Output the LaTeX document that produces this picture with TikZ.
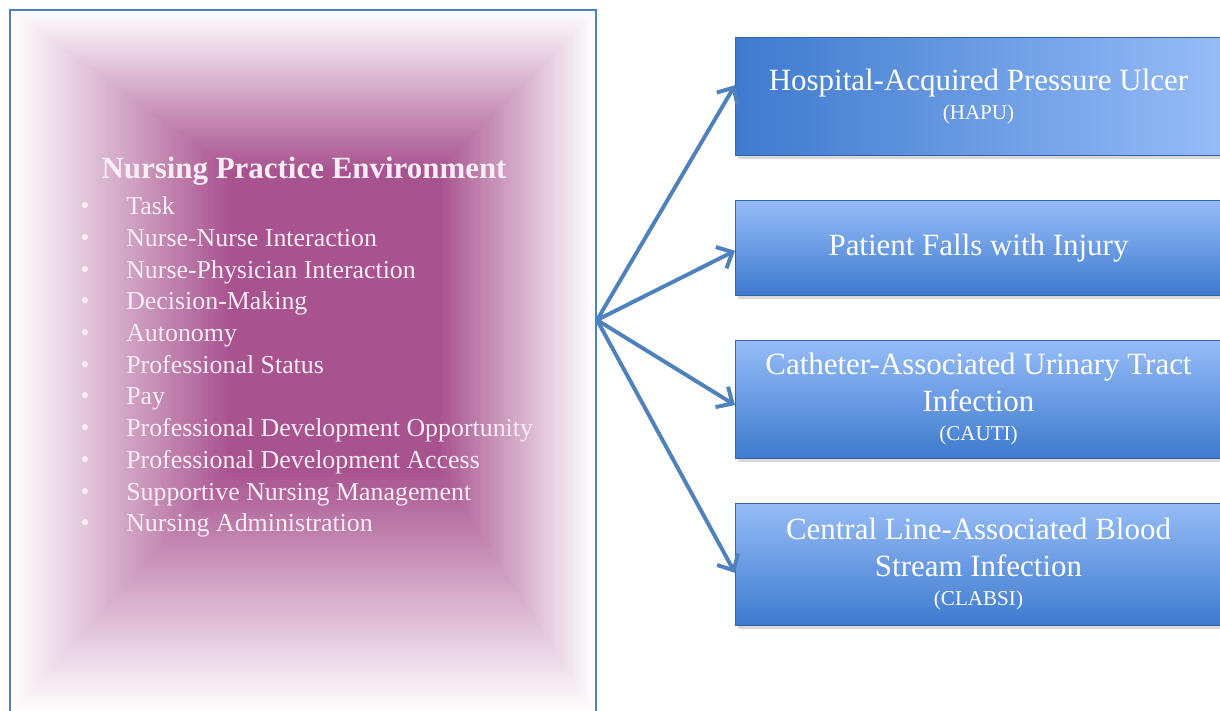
\documentclass[tikz,border=0pt]{standalone}
\usepackage{fontspec}
\setmainfont{Liberation Serif}
\usetikzlibrary{arrows.meta,shadows}
\definecolor{envpurple}{RGB}{168,82,143}
\definecolor{edgeblue}{RGB}{79,129,189}
\definecolor{boxdark}{RGB}{62,122,206}
\definecolor{boxlight}{RGB}{150,188,247}
\definecolor{itemwhite}{RGB}{248,236,245}

\begin{document}
\begin{tikzpicture}[x=0.025cm,y=-0.025cm,
  outcome/.style={rectangle,draw=boxdark!80!black,line width=0.6pt,
    minimum width=12.15cm,minimum height=#1,anchor=north west,
    text=white,align=center,font=\fontsize{22}{26}\selectfont,
    drop shadow={shadow xshift=1.5pt,shadow yshift=-2.5pt,opacity=0.3}},
  vgrad/.style={top color=boxlight,bottom color=boxdark},
  hgrad/.style={left color=boxdark,right color=boxlight},
  link/.style={draw=edgeblue,line width=2.8pt,
    -{Straight Barb[length=9pt,width=17pt]}},
  item/.style={anchor=base west,text=itemwhite,inner sep=0pt,
    font=\fontsize{18.4}{20}\selectfont},
  dot/.style={anchor=base west,text=itemwhite,inner sep=0pt,
    font=\fontsize{19}{20}\selectfont}]
\useasboundingbox (0,0) rectangle (1220,710);

% practice environment box
\foreach \i in {0,...,70} {
  \pgfmathsetmacro{\t}{\i/70}
  \pgfmathsetmacro{\p}{100*\t}
  \fill[envpurple!\p!white] (10+220*\t,10+160*\t) rectangle (595-155*\t,714-244*\t);
}
\draw[edgeblue,line width=1.2pt] (10,10) rectangle (596,716);
\node[text=itemwhite,font=\bfseries\fontsize{22}{26}\selectfont] (title) at (304,171) {Nursing Practice Environment};
\foreach \txt [count=\i] in {Task,Nurse-Nurse Interaction,Nurse-Physician Interaction,
    Decision-Making,Autonomy,Professional Status,Pay,
    Professional Development Opportunity,Professional Development Access,
    Supportive Nursing Management,Nursing Administration} {
  \node[item] (item\i) at (126,183+31.7*\i) {\txt};
  \node[dot] (dot\i) at (80,183+31.7*\i) {\textbullet};
}
\coordinate (hub) at (597,320);

% outcomes
\node[outcome=2.95cm,hgrad] (hapu) at (735,37) {Hospital-Acquired Pressure Ulcer\\[-5pt]{\fontsize{15}{18}\selectfont(HAPU)}};
\node[outcome=2.375cm,vgrad] (falls) at (735,200) {Patient Falls with Injury};
\node[outcome=2.95cm,vgrad] (cauti) at (735,340) {Catheter-Associated Urinary Tract\\Infection\\[-5pt]{\fontsize{15}{18}\selectfont(CAUTI)}};
\node[outcome=3.05cm,vgrad] (clabsi) at (735,503) {Central Line-Associated Blood\\Stream Infection\\[-5pt]{\fontsize{15}{18}\selectfont(CLABSI)}};

\draw[link] (hub) -- ([yshift=8pt]hapu.west);
\draw[link] (hub) -- ([yshift=-2pt]falls.west);
\draw[link] (hub) -- ([yshift=-4pt]cauti.west);
\draw[link] (hub) -- ([yshift=-6pt]clabsi.west);
\end{tikzpicture}
\end{document}
